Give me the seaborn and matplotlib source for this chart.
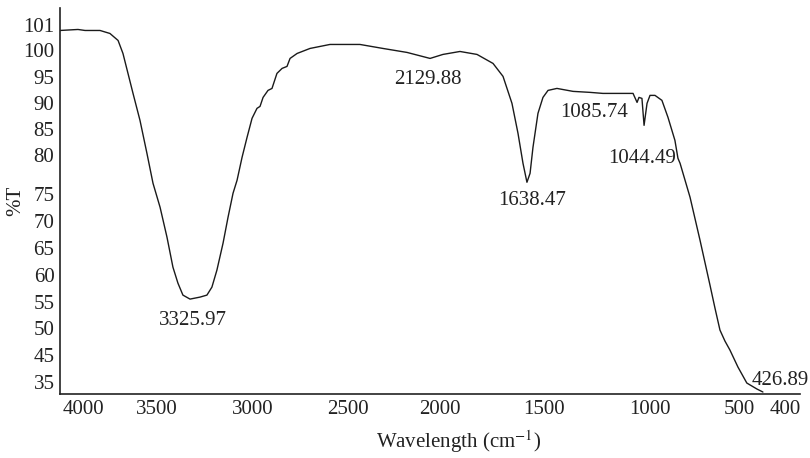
import numpy as np
import pandas as pd
import matplotlib
matplotlib.use("Agg")
import matplotlib.pyplot as plt
import seaborn as sns

# ---- spectrum ----
wavenumber = [4155, 4034, 3986, 3885, 3818, 3763, 3730, 3696, 3662, 3615, 3568, 3527,
              3484, 3448, 3417, 3391, 3365, 3328, 3276, 3240, 3214, 3188, 3156, 3130, 3104,
              3083, 3057, 3031, 3005, 2979, 2963, 2947, 2921, 2900, 2874, 2847, 2821, 2805,
              2768, 2700, 2595, 2435, 2310, 2179, 2054, 1986, 1904, 1822, 1745, 1697, 1654,
              1625, 1601, 1582, 1567, 1553, 1529, 1505, 1481, 1439, 1363, 1283, 1222, 1104,
              1080, 1061, 1052, 1038, 1028, 1014, 1000, 972, 933, 899, 860, 843, 831, 775,
              719, 663, 635, 607, 579, 551, 506, 483, 461, 448]
transmittance = [100.8, 100.84, 100.8, 100.8, 100.68, 100.4, 99.44, 95.74, 91.92, 86.73, 80.38, 76.41,
                 72.59, 67.04, 61.48, 58.52, 56.30, 55.56, 55.93, 56.30, 57.78, 60.93, 65.93, 70.74, 75.13,
                 76.8, 79.74, 83.46, 87.12, 89.04, 89.42, 91.15, 92.5, 92.88, 95.74, 96.67, 97.04, 98.52,
                 99.44, 100.08, 100.24, 100.24, 100.08, 99.63, 98.52, 99.26, 99.81, 99.26, 97.59, 95.19, 90,
                 84.23, 78.97, 76.54, 77.69, 81.54, 88.08, 91.15, 92.5, 92.88, 92.31, 92.12, 91.92, 91.92,
                 91.92, 90.19, 91.15, 90.96, 85.77, 90, 91.54, 91.54, 90.58, 87.31, 82.88, 79.62, 78.97, 74.44,
                 66.48, 58.15, 53.85, 49.63, 47.6, 45.93, 40.56, 34.83, 33.83, 33.33]

peak_labels = ["3325.97", "2129.88", "1638.47", "1085.74", "1044.49", "426.89"]

x_ticks = [4000, 3500, 3000, 2500, 2000, 1500, 1000, 500, 400]
y_ticks = [101, 100, 95, 90, 85, 80, 75, 70, 65, 60, 55, 50, 45, 35]

# ---- the original axes are not evenly spaced: piecewise scales ----
X_ANCHOR = np.array([300, 367, 400, 500, 1000, 1500, 2000, 2500, 3000, 3500, 4000, 4155, 4500])
X_POS = -np.array([846, 800, 785, 739, 650, 544, 440, 348, 253, 157, 83, 60, 9], dtype=float)
Y_ANCHOR = np.array([30, 33, 35, 45, 50, 55, 60, 65, 70, 75, 80, 85, 90, 95, 100, 101, 102])
Y_POS = -np.array([412, 394, 382, 355, 328, 302, 275, 248, 221, 194, 155, 129, 103, 77, 50, 25, 0],
                  dtype=float)


def fwd_x(v):
    return np.interp(v, X_ANCHOR, X_POS)


def inv_x(p):
    return np.interp(p, X_POS, X_ANCHOR)


def fwd_y(v):
    return np.interp(v, Y_ANCHOR, Y_POS)


def inv_y(p):
    return np.interp(p, Y_POS, Y_ANCHOR)


sns.set_theme(style="white")
plt.rcParams["font.family"] = ["Liberation Serif", "DejaVu Serif"]
plt.rcParams["mathtext.fontset"] = "stix"

df = pd.DataFrame({"wn": wavenumber, "T": transmittance})

fig = plt.figure(figsize=(8.1, 4.58), dpi=100)
ax = fig.add_axes([60 / 810, 1 - 394 / 458, 740 / 810, 386 / 458])
ax.set_xscale("function", functions=(fwd_x, inv_x))
ax.set_yscale("function", functions=(fwd_y, inv_y))

sns.lineplot(data=df, x="wn", y="T", sort=False, estimator=None,
             color="#1a1a1a", linewidth=1.0, ax=ax)

ax.set_xlim(4155, 367)
ax.set_ylim(33, 101.7)
ax.set_xticks(x_ticks)
ax.set_xticklabels([str(t) for t in x_ticks])
ax.set_yticks(y_ticks)
ax.set_yticklabels([str(t) for t in y_ticks])
ax.minorticks_off()
ax.tick_params(axis="both", length=0, labelsize=15, colors="#222222")
ax.tick_params(axis="x", pad=4)
ax.tick_params(axis="y", pad=4)

for side in ["top", "right"]:
    ax.spines[side].set_visible(False)
for side in ["left", "bottom"]:
    ax.spines[side].set_color("#222222")
    ax.spines[side].set_linewidth(1.2)

ax.set_xlabel(r"Wavelength (cm$^{-1}$)", fontsize=15, color="#222222")
ax.xaxis.set_label_coords(0.538, -0.088)
ax.set_ylabel("%T", fontsize=15, color="#222222")
ax.yaxis.set_label_coords(-0.047, 0.5)

# peak labels
label_wn = [3313, 2065, 1557, 1264, 1038, 472]
label_t = [51.5, 94.6, 73.9, 88.3, 79.6, 35.7]
label_ha = ["center", "center", "center", "center", "center", "left"]
for txt, lx, ly, ha in zip(peak_labels, label_wn, label_t, label_ha):
    ax.text(lx, ly, txt, ha=ha, va="center", fontsize=15, color="#222222")

fig.savefig("out.png", dpi=100)
